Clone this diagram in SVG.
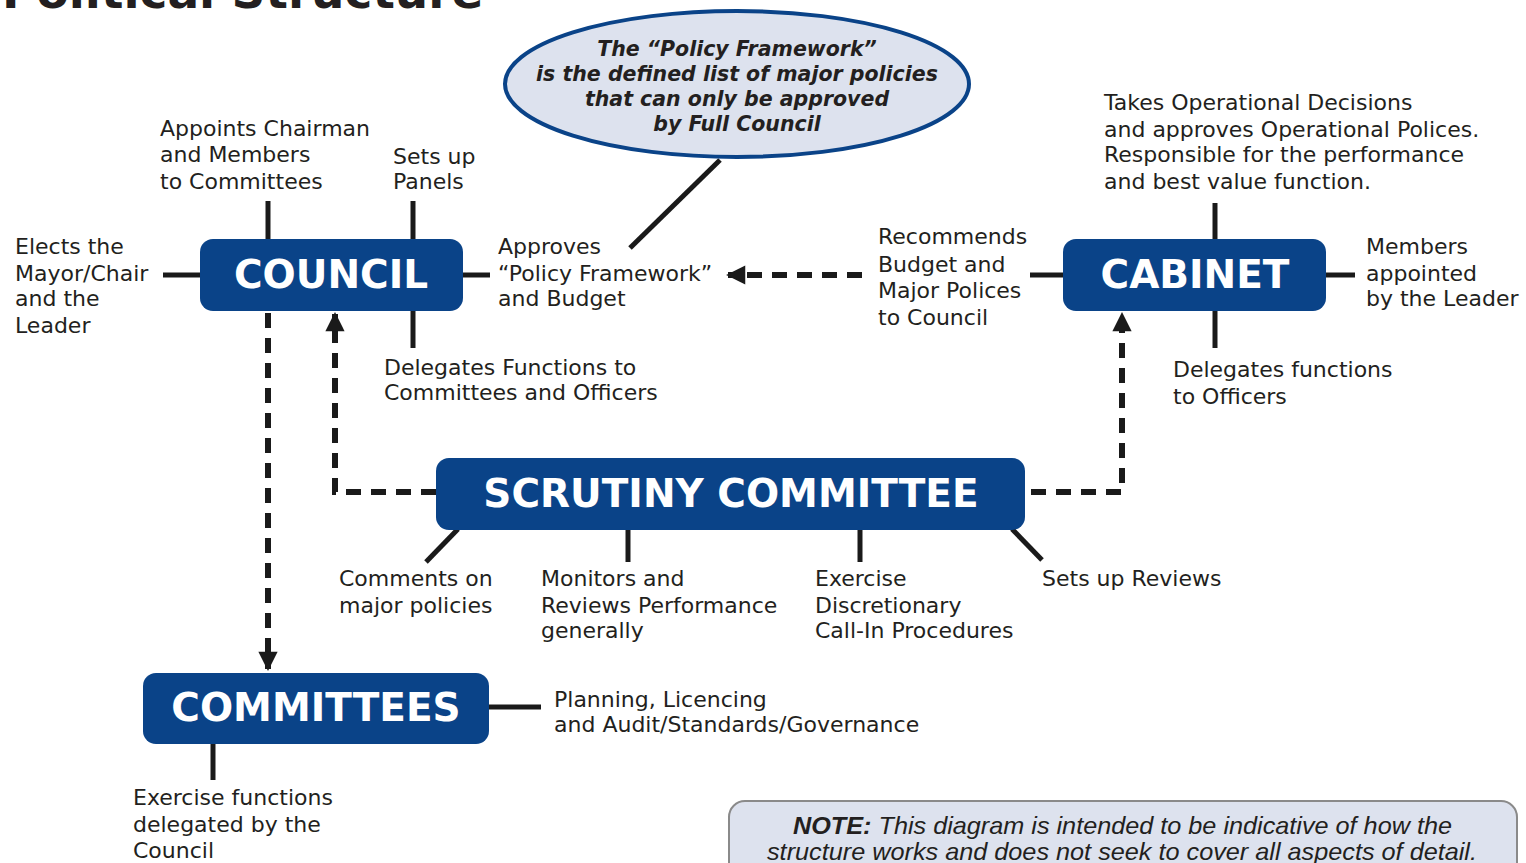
<svg xmlns="http://www.w3.org/2000/svg" width="1526" height="863" viewBox="0 0 1526 863">
<defs>
<style>
.box{fill:#0a4388;}
.bl{font-family:"DejaVu Sans",Verdana,sans-serif;font-weight:bold;font-size:39px;fill:#fff;text-anchor:middle;}
.t{font-family:"DejaVu Sans",Verdana,sans-serif;font-size:22px;fill:#231f20;}
.ln{stroke:#1a1a1a;stroke-width:5;fill:none;}
.dash{stroke:#1a1a1a;stroke-width:6;fill:none;stroke-dasharray:15 10;}
.et{font-family:"DejaVu Sans",Verdana,sans-serif;font-weight:bold;font-style:italic;font-size:20.5px;fill:#231f20;text-anchor:middle;}
.nt{font-family:"Liberation Sans",Arial,sans-serif;font-style:italic;font-size:24px;fill:#231f20;}
</style>
<marker id="ah" viewBox="0 0 10 10" refX="9" refY="5" markerWidth="4" markerHeight="3.2" orient="auto" markerUnits="strokeWidth">
<path d="M0,0 L10,5 L0,10 Z" fill="#1a1a1a"/>
</marker>
</defs>
<rect width="1526" height="863" fill="#fff"/>
<text x="2" y="8" font-family="DejaVu Sans,Verdana,sans-serif" font-weight="bold" font-size="47" fill="#231f20">Political Structure</text>

<g id="connectors">
<line class="ln" x1="268" y1="201" x2="268" y2="240"/>
<line class="ln" x1="413" y1="201" x2="413" y2="240"/>
<line class="ln" x1="163" y1="275" x2="201" y2="275"/>
<line class="ln" x1="462" y1="275" x2="490" y2="275"/>
<line class="ln" x1="413" y1="310" x2="413" y2="348"/>
<line class="ln" x1="720" y1="160" x2="630" y2="248"/>
<line class="dash" x1="862" y1="275" x2="728" y2="275" marker-end="url(#ah)"/>
<line class="ln" x1="1030" y1="275" x2="1064" y2="275"/>
<line class="ln" x1="1325" y1="275" x2="1355" y2="275"/>
<line class="ln" x1="1215" y1="203" x2="1215" y2="240"/>
<line class="ln" x1="1215" y1="310" x2="1215" y2="348"/>
<path class="dash" d="M268,313 L268,669" marker-end="url(#ah)"/>
<path class="dash" d="M436,492 L335,492 L335,314" marker-end="url(#ah)"/>
<path class="dash" d="M1031,492 L1122,492 L1122,314" marker-end="url(#ah)"/>
<line class="ln" x1="458" y1="529" x2="426" y2="562"/>
<line class="ln" x1="628" y1="529" x2="628" y2="562"/>
<line class="ln" x1="860" y1="529" x2="860" y2="562"/>
<line class="ln" x1="1012" y1="529" x2="1042" y2="560"/>
<line class="ln" x1="488" y1="707" x2="541" y2="707"/>
<line class="ln" x1="213" y1="743" x2="213" y2="780"/>
</g>

<g id="ellipse">
<ellipse cx="737" cy="84" rx="232" ry="73" fill="#dde2ee" stroke="#0a4388" stroke-width="4"/>
<text class="et" x="737" y="56">The “Policy Framework”</text>
<text class="et" x="737" y="81">is the defined list of major policies</text>
<text class="et" x="737" y="106">that can only be approved</text>
<text class="et" x="737" y="131">by Full Council</text>
</g>

<g id="council">
<rect class="box" x="200" y="239" width="263" height="72" rx="13"/>
<text class="bl" x="331" y="288">COUNCIL</text>
</g>
<g id="cabinet">
<rect class="box" x="1063" y="239" width="263" height="72" rx="13"/>
<text class="bl" x="1195" y="288">CABINET</text>
</g>
<g id="scrutiny">
<rect class="box" x="436" y="458" width="589" height="72" rx="13"/>
<text class="bl" x="731" y="507">SCRUTINY COMMITTEE</text>
</g>
<g id="committees">
<rect class="box" x="143" y="673" width="346" height="71" rx="13"/>
<text class="bl" x="316" y="721">COMMITTEES</text>
</g>

<g id="labels">
<text class="t" x="160" y="136">Appoints Chairman</text>
<text class="t" x="160" y="162">and Members</text>
<text class="t" x="160" y="189">to Committees</text>
<text class="t" x="393" y="164">Sets up</text>
<text class="t" x="393" y="189">Panels</text>
<text class="t" x="15" y="254">Elects the</text>
<text class="t" x="15" y="281">Mayor/Chair</text>
<text class="t" x="15" y="306">and the</text>
<text class="t" x="15" y="333">Leader</text>
<text class="t" x="498" y="254">Approves</text>
<text class="t" x="498" y="281">“Policy Framework”</text>
<text class="t" x="498" y="306">and Budget</text>
<text class="t" x="878" y="244">Recommends</text>
<text class="t" x="878" y="272">Budget and</text>
<text class="t" x="878" y="298">Major Polices</text>
<text class="t" x="878" y="325">to Council</text>
<text class="t" x="1104" y="110">Takes Operational Decisions</text>
<text class="t" x="1104" y="137">and approves Operational Polices.</text>
<text class="t" x="1104" y="162">Responsible for the performance</text>
<text class="t" x="1104" y="189">and best value function.</text>
<text class="t" x="1366" y="254">Members</text>
<text class="t" x="1366" y="281">appointed</text>
<text class="t" x="1366" y="306">by the Leader</text>
<text class="t" x="384" y="375">Delegates Functions to</text>
<text class="t" x="384" y="400">Committees and Officers</text>
<text class="t" x="1173" y="377">Delegates functions</text>
<text class="t" x="1173" y="404">to Officers</text>
<text class="t" x="339" y="586">Comments on</text>
<text class="t" x="339" y="613">major policies</text>
<text class="t" x="541" y="586">Monitors and</text>
<text class="t" x="541" y="613">Reviews Performance</text>
<text class="t" x="541" y="638">generally</text>
<text class="t" x="815" y="586">Exercise</text>
<text class="t" x="815" y="613">Discretionary</text>
<text class="t" x="815" y="638">Call-In Procedures</text>
<text class="t" x="1042" y="586">Sets up Reviews</text>
<text class="t" x="554" y="707">Planning, Licencing</text>
<text class="t" x="554" y="732">and Audit/Standards/Governance</text>
<text class="t" x="133" y="805">Exercise functions</text>
<text class="t" x="133" y="832">delegated by the</text>
<text class="t" x="133" y="858">Council</text>
</g>

<g id="note">
<rect x="729" y="801" width="788" height="90" rx="16" fill="#dde2ee" stroke="#8a8a8a" stroke-width="2"/>
<text class="nt" x="793" y="834" textLength="659" lengthAdjust="spacingAndGlyphs"><tspan font-weight="bold">NOTE:</tspan> This diagram is intended to be indicative of how the</text>
<text class="nt" x="767" y="860" textLength="710" lengthAdjust="spacingAndGlyphs">structure works and does not seek to cover all aspects of detail.</text>
</g>
</svg>
